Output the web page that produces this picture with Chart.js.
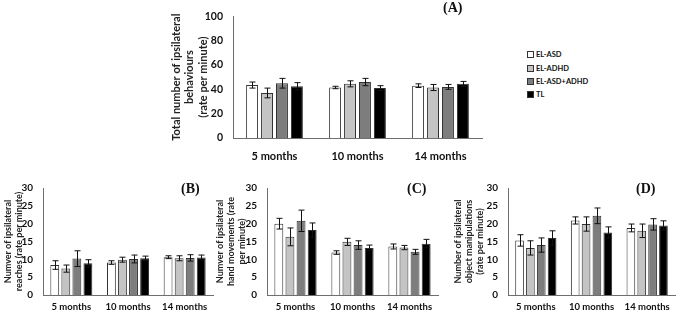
<!DOCTYPE html>
<html>
<head>
<meta charset="utf-8">
<script src="https://cdn.jsdelivr.net/npm/chart.js@4.4.1/dist/chart.umd.min.js"></script>
<style>
  body { margin: 0; background: #fff; }
  #page { position: relative; width: 677px; height: 315px; overflow: hidden; }
  canvas { position: absolute; }
  .tag { position: absolute; font: bold 14px "Liberation Serif", serif; color: #111; }
  #legend { position: absolute; left: 527px; top: 48px; font: bold 7.5px Lato, sans-serif; color: #111; }
  #legend div { height: 13.4px; display: flex; align-items: center; }
  #legend span { display: inline-block; width: 5px; height: 5px; border: 1px solid #333; margin-right: 2px; }
</style>
</head>
<body>
<div id="page">
  <canvas id="chartA" width="322" height="172" style="left:165px;top:0px"></canvas>
  <canvas id="chartB" width="220" height="147" style="left:0px;top:168px"></canvas>
  <canvas id="chartC" width="230" height="147" style="left:212px;top:168px"></canvas>
  <canvas id="chartD" width="227" height="147" style="left:450px;top:168px"></canvas>
  <div class="tag" style="left:443px;top:0px">(A)</div>
  <div class="tag" style="left:181px;top:181px">(B)</div>
  <div class="tag" style="left:407px;top:181px">(C)</div>
  <div class="tag" style="left:636px;top:181px">(D)</div>
  <div id="legend"></div>
</div>
<script>
const months = ["5 months", "10 months", "14 months"];
const groups = ["EL-ASD", "EL-ADHD", "EL-ASD+ADHD", "TL"];
const fills = ["#ffffff", "#c4c4c4", "#7d7d7d", "#000000"];

// rows = groups, columns = months
const totalMeans = [[43.5, 41.5, 43], [37, 44.5, 41.5], [45, 46, 42], [42.5, 41, 44.5]];
const totalErrs = [[2.5, 1, 1.5], [4, 2.5, 2.5], [4, 3, 2], [3, 2, 2]];

const reachMeans = [[8.4, 9.1, 10.6], [7.4, 9.9, 10.3], [10.2, 10.1, 10.4], [8.9, 10.3, 10.5]];
const reachErrs = [[1.2, 0.5, 0.4], [1, 0.7, 0.7], [2.2, 1.1, 0.9], [1, 0.6, 0.7]];

const handMeans = [[20, 11.9, 13.6], [16.3, 14.9, 13.3], [20.8, 14, 12.1], [18.2, 13.2, 14.4]];
const handErrs = [[1.5, 0.5, 0.7], [2.5, 1, 0.6], [3, 1.2, 0.7], [2, 0.8, 1.2]];

const objMeans = [[15.3, 20.9, 18.8], [13.2, 19.9, 18], [14, 22.2, 19.8], [16, 17.5, 19.5]];
const objErrs = [[1.6, 1, 1.1], [2, 2, 1.9], [2, 2.2, 1.6], [2, 1.6, 1.3]];

const errorBars = {
  id: "errorBars",
  afterDatasetsDraw(chart) {
    const ctx = chart.ctx;
    const y = chart.scales.y;
    chart.data.datasets.forEach((ds, i) => {
      chart.getDatasetMeta(i).data.forEach((bar, j) => {
        const top = y.getPixelForValue(ds.data[j] + ds.errors[j]);
        const bot = y.getPixelForValue(ds.data[j] - ds.errors[j]);
        const x = Math.round(bar.x) + 0.5;
        ctx.save();
        ctx.strokeStyle = "#111";
        ctx.lineWidth = 1;
        ctx.beginPath();
        ctx.moveTo(x, top); ctx.lineTo(x, bot);
        ctx.moveTo(x - 3, top); ctx.lineTo(x + 3, top);
        ctx.moveTo(x - 3, bot); ctx.lineTo(x + 3, bot);
        ctx.stroke();
        ctx.restore();
      });
    });
  }
};

function makeChart(id, means, errs, max, step, title, opt) {
  new Chart(document.getElementById(id), {
    type: "bar",
    data: {
      labels: months,
      datasets: groups.map((g, i) => ({
        label: g,
        data: means[i],
        errors: errs[i],
        backgroundColor: fills[i],
        borderColor: "#333",
        borderWidth: 1,
        barPercentage: opt.barPct,
        categoryPercentage: opt.catPct
      }))
    },
    options: {
      responsive: false,
      animation: false,
      layout: { padding: { top: opt.top, right: opt.right, left: 0, bottom: 0 } },
      plugins: { legend: { display: false }, tooltip: { enabled: false } },
      scales: {
        x: {
          grid: { display: false, drawTicks: false },
          border: { color: "#6e6e6e", width: 1 },
          ticks: { color: "#111", padding: opt.xPad, font: { family: "Lato", weight: "bold", size: opt.xSize } },
          afterFit: (s) => { s.height = opt.xH; }
        },
        y: {
          min: 0, max: max,
          grid: { display: false, drawTicks: false },
          border: { color: "#6e6e6e", width: 1 },
          ticks: { stepSize: step, color: "#111", padding: 10, font: { family: "Lato", weight: "bold", size: opt.ySize } },
          title: {
            display: true, text: title, color: "#222",
            padding: { top: opt.tPad, bottom: 0 },
            font: { family: "Lato", weight: "bold", size: opt.tSize, lineHeight: opt.tLine }
          },
          afterFit: (s) => { s.width = opt.yW; }
        }
      }
    },
    plugins: [errorBars]
  });
}

makeChart("chartA", totalMeans, totalErrs, 100, 20,
  ["Total number of ipsilateral", "behaviours", "(rate per minute)"],
  { top: 9, right: 5, xH: 34, yW: 68, xPad: 12, xSize: 11, ySize: 10.5, tPad: 5, tSize: 11, tLine: 1.2, barPct: 0.8, catPct: 0.72 });

const small = { top: 20, xH: 20, xPad: 6, xSize: 9.5, ySize: 10, tPad: 3, tSize: 9, tLine: 1.2, barPct: 0.8, catPct: 0.78 };
makeChart("chartB", reachMeans, reachErrs, 30, 5,
  ["Numver of ipsilateral", "reaches (rate per minute)"],
  Object.assign({}, small, { right: 7, yW: 43 }));
makeChart("chartC", handMeans, handErrs, 30, 5,
  ["Numver of ipsilateral", "hand movements (rate", "per minute)"],
  Object.assign({}, small, { right: 4, yW: 55 }));
makeChart("chartD", objMeans, objErrs, 30, 5,
  ["Number of ipsilateral", "object manipulations", "(rate per minute)"],
  Object.assign({}, small, { right: 2, yW: 58 }));

const legend = document.getElementById("legend");
groups.forEach((g, i) => {
  const row = document.createElement("div");
  row.innerHTML = `<span style="background:${fills[i]}"></span>${g}`;
  legend.appendChild(row);
});
</script>
</body>
</html>
